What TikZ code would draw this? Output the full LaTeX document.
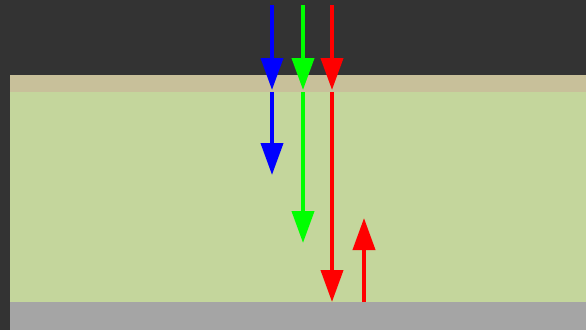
\documentclass[tikz,border=0pt]{standalone}
\usetikzlibrary{arrows.meta}
\definecolor{bgdark}{HTML}{333333}
\definecolor{tanband}{HTML}{C8C09A}
\definecolor{greenarea}{HTML}{C4D69C}
\definecolor{greybase}{HTML}{A5A5A5}
\definecolor{ablue}{HTML}{0000FF}
\definecolor{agreen}{HTML}{00FF00}
\definecolor{ared}{HTML}{FF0000}
\tikzset{
  ray/.style={line width=4pt, -{Triangle[length=32pt,width=22pt]}},
}
\begin{document}
\begin{tikzpicture}[x=1pt,y=-1pt]
\fill[bgdark] (0,0) rectangle (586,330);
\useasboundingbox (0,0) rectangle (586,330);
\fill[tanband] (10,75) rectangle (586,92);
\fill[greenarea] (10,92) rectangle (586,302);
\fill[greybase] (10,302) rectangle (586,330);
% coordinates
\coordinate (b0) at (272,5);
\coordinate (b1) at (272,90);
\coordinate (b2) at (272,92);
\coordinate (b3) at (272,175);
\coordinate (g0) at (303,5);
\coordinate (g1) at (303,90);
\coordinate (g2) at (303,92);
\coordinate (g3) at (303,243);
\coordinate (r0) at (332,5);
\coordinate (r1) at (332,90);
\coordinate (r2) at (332,92);
\coordinate (r3) at (332,302);
\coordinate (u0) at (364,302);
\coordinate (u1) at (364,218);
\draw[ray, ablue] (b0) -- (b1);
\draw[ray, ablue] (b2) -- (b3);
\draw[ray, agreen] (g0) -- (g1);
\draw[ray, agreen] (g2) -- (g3);
\draw[ray, ared] (r0) -- (r1);
\draw[ray, ared] (r2) -- (r3);
\draw[ray, ared] (u0) -- (u1);
\end{tikzpicture}
\end{document}
